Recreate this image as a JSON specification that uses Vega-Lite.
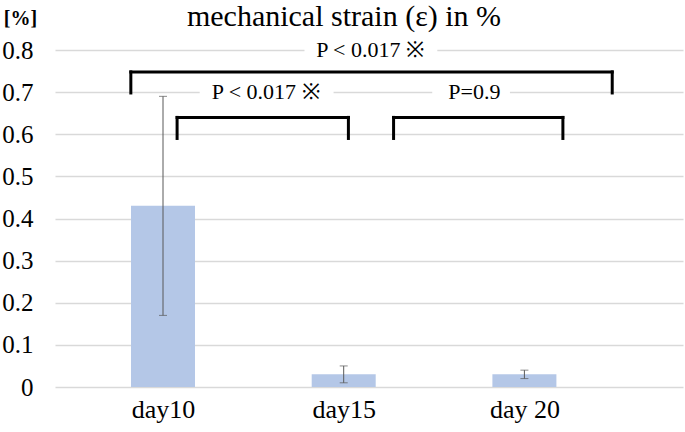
{
  "$schema": "https://vega.github.io/schema/vega-lite/v6.json",
  "autosize": {"type": "none"},
  "width": 628,
  "height": 337,
  "padding": {"left": 55, "top": 50, "right": 2, "bottom": 45},
  "background": "white",
  "title": {
    "text": "mechanical strain (ε) in %",
    "font": "Liberation Serif",
    "fontSize": 30,
    "fontWeight": "normal",
    "color": "black",
    "anchor": "middle",
    "dx": -25,
    "dy": 30,
    "offset": 6
  },
  "config": {
    "font": "Liberation Serif",
    "view": {"stroke": null},
    "axis": {"labelFont": "Liberation Serif", "labelColor": "black", "titleFont": "Liberation Serif", "titleColor": "black"}
  },
  "datasets": {
    "bars": [
      {"day": "day10", "x": 1, "mean": 0.43, "lo": 0.17, "hi": 0.69},
      {"day": "day15", "x": 2, "mean": 0.03, "lo": 0.01, "hi": 0.05},
      {"day": "day 20", "x": 3, "mean": 0.03, "lo": 0.02, "hi": 0.04}
    ],
    "brackets": [
      {"xa": 0.822, "xb": 3.486, "ya": 0.748, "yb": 0.748},
      {"xa": 0.822, "xb": 0.822, "ya": 0.748, "yb": 0.698},
      {"xa": 3.486, "xb": 3.486, "ya": 0.748, "yb": 0.698},
      {"xa": 1.078, "xb": 2.026, "ya": 0.64, "yb": 0.64},
      {"xa": 1.078, "xb": 1.078, "ya": 0.64, "yb": 0.59},
      {"xa": 2.026, "xb": 2.026, "ya": 0.64, "yb": 0.59},
      {"xa": 2.276, "xb": 3.213, "ya": 0.64, "yb": 0.64},
      {"xa": 2.276, "xb": 2.276, "ya": 0.64, "yb": 0.59},
      {"xa": 3.213, "xb": 3.213, "ya": 0.64, "yb": 0.59}
    ],
    "labels": [
      {"label": "P < 0.017 ※", "x": 2.146, "y": 0.8, "xa": 1.783, "xb": 2.518},
      {"label": "P < 0.017 ※", "x": 1.568, "y": 0.7, "xa": 1.203, "xb": 1.944},
      {"label": "P=0.9", "x": 2.723, "y": 0.7, "xa": 2.49, "xb": 2.92}
    ]
  },
  "layer": [
    {
      "data": {"name": "bars"},
      "mark": {"type": "bar", "width": 64, "color": "#B4C7E7"},
      "encoding": {
        "x": {
          "field": "x", "type": "quantitative", "title": null,
          "scale": {"domain": [0.43, 3.85], "nice": false, "zero": false},
          "axis": {
            "title": null, "values": [1, 2, 3],
            "labelExpr": "datum.value == 1 ? 'day10' : datum.value == 2 ? 'day15' : 'day 20'",
            "grid": false, "ticks": false, "domain": false,
            "labelFont": "Liberation Serif", "labelFontWeight": "normal", "labelColor": "black",
            "labelFontSize": 26, "labelPadding": 9
          }
        },
        "y": {
          "field": "mean", "type": "quantitative", "title": "[%]",
          "scale": {"domain": [0, 0.8], "nice": false},
          "axis": {
            "title": "[%]", "titleAngle": 0, "titleFontSize": 20, "titleFontWeight": "bold",
            "titleFont": "Liberation Serif", "titleColor": "black",
            "titleX": -35, "titleY": -32, "titleAlign": "center", "titleBaseline": "middle",
            "values": [0, 0.1, 0.2, 0.3, 0.4, 0.5, 0.6, 0.7, 0.8],
            "labelExpr": "datum.value == 0 ? '0' : format(datum.value, '.1f')",
            "labelFont": "Liberation Serif", "labelFontWeight": "normal", "labelColor": "black",
            "labelFontSize": 25, "labelPadding": 22,
            "grid": true, "gridColor": "#d9d9d9", "gridWidth": 1.3,
            "ticks": false, "domain": false
          }
        }
      }
    },
    {
      "data": {"name": "bars"},
      "mark": {"type": "rule", "color": "#595959", "strokeWidth": 1},
      "encoding": {
        "x": {"field": "x", "type": "quantitative", "title": null},
        "y": {"field": "lo", "type": "quantitative", "title": "[%]"},
        "y2": {"field": "hi"}
      }
    },
    {
      "data": {"name": "bars"},
      "mark": {"type": "tick", "orient": "horizontal", "color": "#595959", "size": 8, "thickness": 1},
      "encoding": {
        "x": {"field": "x", "type": "quantitative", "title": null},
        "y": {"field": "lo", "type": "quantitative", "title": "[%]"}
      }
    },
    {
      "data": {"name": "bars"},
      "mark": {"type": "tick", "orient": "horizontal", "color": "#595959", "size": 8, "thickness": 1},
      "encoding": {
        "x": {"field": "x", "type": "quantitative", "title": null},
        "y": {"field": "hi", "type": "quantitative", "title": "[%]"}
      }
    },
    {
      "data": {"name": "brackets"},
      "mark": {"type": "rule", "color": "black", "strokeWidth": 3, "strokeCap": "square"},
      "encoding": {
        "x": {"field": "xa", "type": "quantitative", "title": null},
        "x2": {"field": "xb"},
        "y": {"field": "ya", "type": "quantitative", "title": "[%]"},
        "y2": {"field": "yb"}
      }
    },
    {
      "data": {"name": "labels"},
      "transform": [{"calculate": "datum.y - 0.025", "as": "ylo"}, {"calculate": "datum.y + 0.025", "as": "yhi"}],
      "mark": {"type": "rect", "color": "white"},
      "encoding": {
        "x": {"field": "xa", "type": "quantitative", "title": null},
        "x2": {"field": "xb"},
        "y": {"field": "ylo", "type": "quantitative", "title": "[%]"},
        "y2": {"field": "yhi"}
      }
    },
    {
      "data": {"name": "labels"},
      "mark": {"type": "text", "font": "Liberation Serif", "fontSize": 22, "color": "black", "baseline": "middle", "align": "center"},
      "encoding": {
        "x": {"field": "x", "type": "quantitative", "title": null},
        "y": {"field": "y", "type": "quantitative", "title": "[%]"},
        "text": {"field": "label"}
      }
    }
  ]
}
